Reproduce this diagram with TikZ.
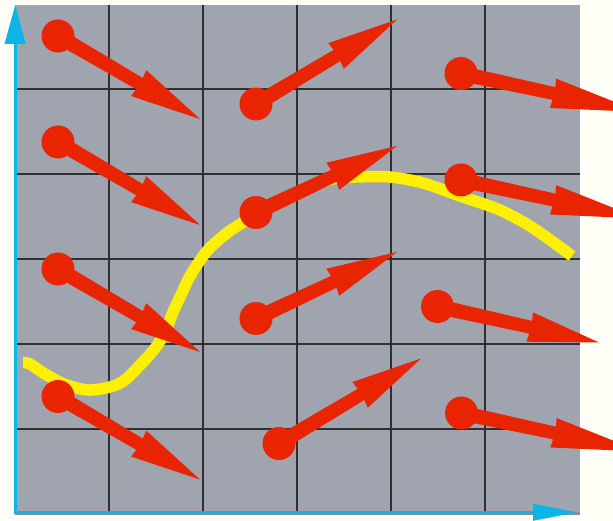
\documentclass[tikz,border=0pt]{standalone}
\usetikzlibrary{calc}
\definecolor{bgcream}{HTML}{FFFEF7}
\definecolor{panelgray}{HTML}{A0A4AE}
\definecolor{panelshadow}{HTML}{8A8D96}
\definecolor{arrowred}{HTML}{E82500}
\definecolor{curveyellow}{HTML}{FFF000}
\definecolor{axisblue}{HTML}{0CB4E8}
\definecolor{gridline}{HTML}{303030}
\tikzset{
  dot/.style={circle, fill=arrowred, minimum size=33pt, inner sep=0pt, draw=none},
  gridrule/.style={draw=gridline, line width=1.3pt},
  curve/.style={draw=curveyellow, line width=11.5pt, line cap=butt, line join=round},
  axisline/.style={draw=axisblue, line width=3pt},
  axishead/.style={fill=axisblue},
  arrowbody/.style={fill=arrowred},
}
% [#1] = head length, #2 = dot node, #3 = tip coordinate
\newcommand\redarrow[3][70pt]{%
  \fill[arrowbody]
    ($(#2)!7.5pt!90:(#3)$) --
    ($(#3)!#1!(#2)!6.5pt!270:(#2)$) --
    ($(#3)!#1+1pt!(#2)!15pt!270:(#2)$) --
    (#3) --
    ($(#3)!#1+1pt!(#2)!15pt!90:(#2)$) --
    ($(#3)!#1!(#2)!6.5pt!90:(#2)$) --
    ($(#2)!7.5pt!270:(#3)$) -- cycle;}
\begin{document}
\begin{tikzpicture}[x=1pt,y=-1pt]
  \fill[bgcream] (0,0) rectangle (613,521);
  \useasboundingbox (0,0) rectangle (613,521);
  % panel
  \fill[panelshadow] (15,510) rectangle (580,515);
  \fill[panelgray] (15,5) rectangle (580,512);
  \foreach \gx in {109,203,297,391,485}
    \draw[gridrule] (\gx,5) -- (\gx,512);
  \foreach \gy in {89,174,259,344,429}
    \draw[gridrule] (15,\gy) -- (580,\gy);
  % yellow curve
  \draw[curve] plot[smooth, tension=0.5] coordinates {
    (23,362.5) (30,364) (46.7,375) (66.7,385) (88,390) (110,387) (125,380)
    (143,362) (156,347) (166,330) (173,312) (181,295) (190,276) (207,251)
    (227,233) (245,221) (265,207) (300,191.5) (330,179.5) (356,177) (390,177)
    (423,183) (460,196) (500,210) (533,228) (572,256)};
  % dots
  \node[dot] (d1) at (58,36) {};
  \node[dot] (d2) at (256,104) {};
  \node[dot] (d3) at (461,73.5) {};
  \node[dot] (d4) at (58,142) {};
  \node[dot] (d5) at (256,212.5) {};
  \node[dot] (d6) at (461,180) {};
  \node[dot] (d7) at (58,269) {};
  \node[dot] (d8) at (256,318.5) {};
  \node[dot] (d9) at (437.5,306.5) {};
  \node[dot] (d10) at (58,396.5) {};
  \node[dot] (d11) at (279,443.5) {};
  \node[dot] (d12) at (461.5,413) {};
  % tips
  \coordinate (t1) at (200,119);
  \coordinate (t2) at (397,19.5);
  \coordinate (t3) at (640,112);
  \coordinate (t4) at (200,225);
  \coordinate (t5) at (397,146);
  \coordinate (t6) at (640,218.5);
  \coordinate (t7) at (200,352);
  \coordinate (t8) at (397,252);
  \coordinate (t9) at (599,342.5);
  \coordinate (t10) at (200,479.5);
  \coordinate (t11) at (421,358.5);
  \coordinate (t12) at (640.5,451.5);
  \foreach \k in {1,2,4,5,7,8,9,10,11} {\redarrow{d\k}{t\k}}
  \foreach \k in {3,6,12} {\redarrow[88pt]{d\k}{t\k}}
  % axes
  \coordinate (yfoot) at (15,514);
  \coordinate (yneck) at (15,44);
  \coordinate (ytip) at (15.3,5);
  \coordinate (xfoot) at (13.5,512);
  \coordinate (xneck) at (533,512);
  \coordinate (xtip) at (577,512.3);
  \draw[axisline] (yfoot) -- (yneck);
  \draw[axisline] (xfoot) -- (xneck);
  \fill[axishead] ($(yneck)+(-10.5,0)$) -- ($(yneck)+(10.8,0)$) -- (ytip) -- cycle;
  \fill[axishead] ($(xneck)+(0,-8.3)$) -- ($(xneck)+(0,8.8)$) -- (xtip) -- cycle;
\end{tikzpicture}
\end{document}
